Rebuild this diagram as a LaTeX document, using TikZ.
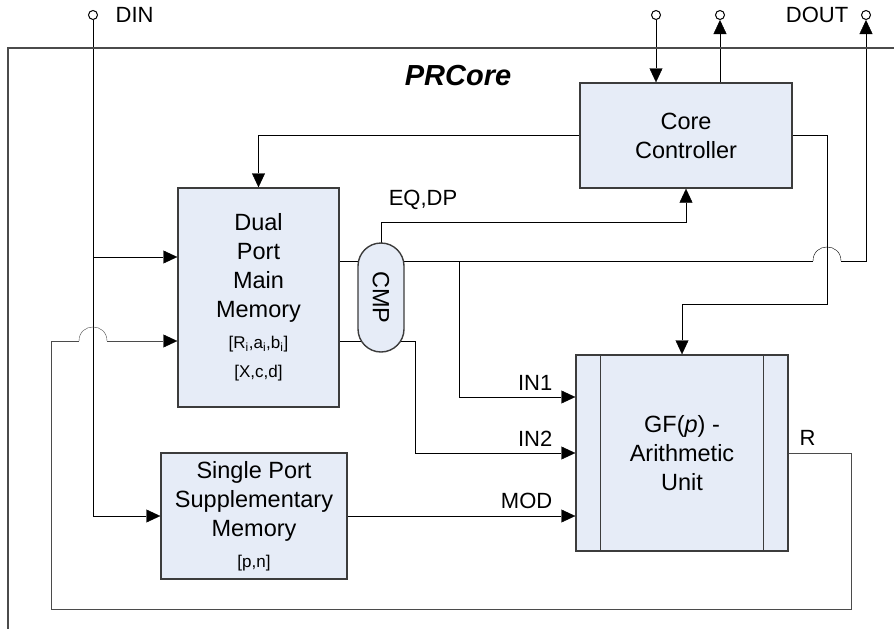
\documentclass[tikz,border=0pt]{standalone}
\usepackage{fontspec}
\setmainfont{Liberation Sans}
\usetikzlibrary{arrows.meta,backgrounds}
\definecolor{boxfill}{RGB}{230,236,247}
\definecolor{boxline}{RGB}{60,60,60}
\definecolor{wiregray}{RGB}{75,75,75}
\newcommand\boxfont{\fontsize{23.5}{29}\selectfont}
\newcommand\notefont{\fontsize{17}{24}\selectfont}
\newcommand\labelfont{\fontsize{22}{26}\selectfont}

\begin{document}
\begin{tikzpicture}[x=1pt,y=-1pt,line width=1.4pt]
    \useasboundingbox (0,0) rectangle (894,629);
    \draw[wiregray] (8,629) -- (8,48) -- (894,48);
    \node[inner sep=0pt,font=\fontsize{29}{32}\selectfont\bfseries\itshape] (title) at (458,76) {PRCore};

    \begin{scope}[every node/.style={circle,draw,fill=white,inner sep=0pt,minimum size=9pt,line width=1pt}]
      \node (din) at (93,15) {};
      \node (ctlin) at (656,15) {};
      \node (ctlout) at (720,15) {};
      \node (dout) at (866,15) {};
    \end{scope}

    \begin{scope}[every node/.style={draw=boxline,fill=boxfill,align=center,inner sep=0pt,font=\boxfont}]
      \node[minimum width=212pt,minimum height=105pt] (cc) at (686,135.5) {Core\\Controller};
      \node[minimum width=161pt,minimum height=219pt] (dp) at (258.5,297.5)
        {Dual\\Port\\Main\\Memory\\[2pt]\notefont [R\textsubscript{i},a\textsubscript{i},b\textsubscript{i}]\\\notefont{[X,c,d]}};
      \node[rotate=-90,rounded corners=23pt,minimum width=109pt,minimum height=46pt] (cmp) at (381,297.5) {CMP};
      \node[minimum width=212pt,minimum height=196pt] (au) at (682,453) {GF(\textit{p}) -\\Arithmetic\\Unit};
      \node[minimum width=186pt,minimum height=126pt] (sp) at (254,516)
        {Single Port\\Supplementary\\Memory\\[2pt]\notefont{[p,n]}};
    \end{scope}
    \draw[boxline] ([xshift=25pt]au.north west) -- ([xshift=25pt]au.south west);
    \draw[boxline] ([xshift=-25pt]au.north east) -- ([xshift=-25pt]au.south east);

    \begin{scope}[every node/.style={inner sep=0pt,font=\labelfont}]
      \node[anchor=west] (dinlabel) at (115,15) {DIN};
      \node[anchor=east] (doutlabel) at (849,15) {DOUT};
      \node (eqdp) at (423,200) {EQ,DP};
      \node[anchor=east] (in1) at (553,383) {IN1};
      \node[anchor=east] (in2) at (553,439) {IN2};
      \node[anchor=east] (mod) at (553,501) {MOD};
      \node[anchor=west] (res) at (799,438) {R};
    \end{scope}

    \begin{scope}[on background layer,>={Triangle[length=14pt,width=13pt,black]}]
      \draw[->] (din) -- (din |- sp) -- (sp);
      \draw[->] (din |- 0,257) -- (dp.west |- 0,257);
      \draw[->] (ctlin) -- (cc.north -| ctlin);
      \draw[->] (cc.north -| ctlout) -- (ctlout);
      \draw[->] (cc.west) -| (dp.north);
      \draw[->] (cc.east) -| (827,304) -| (au.north);
      \draw[->] (cmp.center) |- (686,222) -- (cc.south);
      \draw (dp.east |- 0,261) -- (cmp.center |- 0,261);
      \draw (dp.east |- 0,341) -- (cmp.center |- 0,341);
      \draw (cmp.center |- 0,261) -- (813,261);
      \draw (813,261) .. controls (813,242.3) and (841,242.3) .. (841,261);
      \draw[->] (841,261) -| (dout);
      \draw[->] (459,261) |- (au.west |- 0,397);
      \draw[->] (cmp.center |- 0,341) -| (415,453) -- (au.west |- 0,453);
      \draw[->] (sp) -- (au.west |- sp);
      \draw[wiregray] (au.east) -| (851,609) -| (51,341) -- (79,341);
      \draw[wiregray] (79,341) .. controls (79,322.3) and (107,322.3) .. (107,341);
      \draw[->,wiregray] (107,341) -- (dp.west |- 0,341);
    \end{scope}
\end{tikzpicture}
\end{document}
